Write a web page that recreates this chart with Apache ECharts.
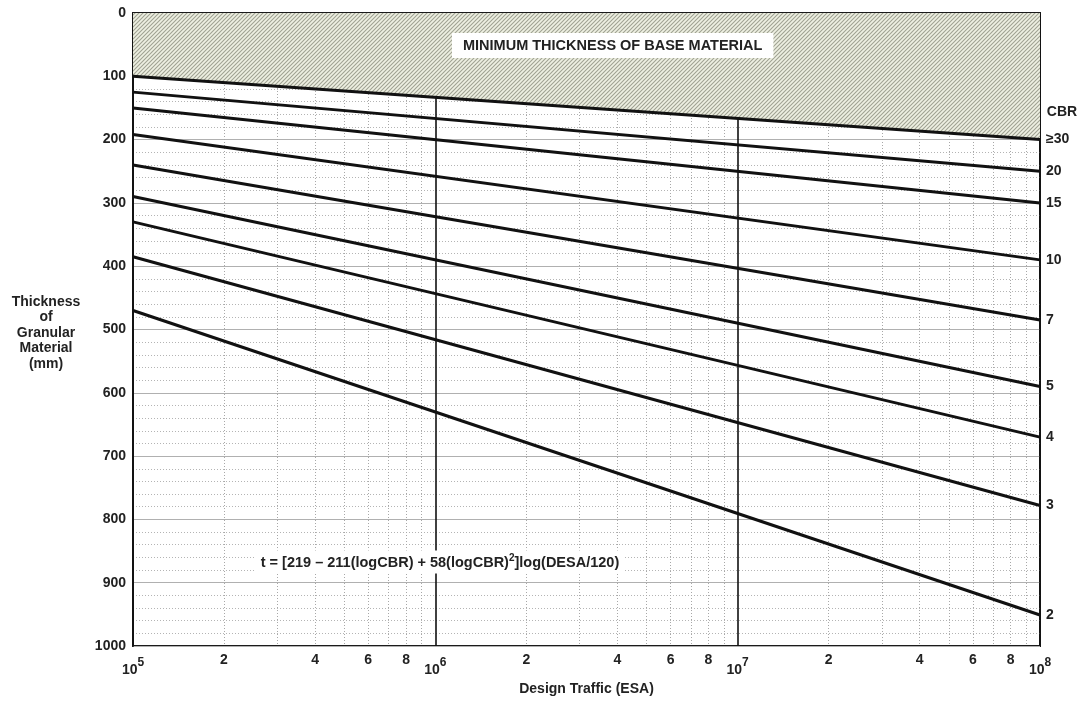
<!DOCTYPE html>
<html>
<head>
<meta charset="utf-8">
<script src="https://cdn.jsdelivr.net/npm/echarts@6/dist/echarts.min.js"></script>
<style>
html,body{margin:0;padding:0;background:#fff;}
#chart{width:1082px;height:717px;}
</style>
</head>
<body>
<div id="chart"></div>
<script>
// ---- data ----
const cbrLabels = ['≥30', '20', '15', '10', '7', '5', '4', '3', '2'];
const trafficEnds = [1e5, 1e8];                      // design traffic (ESA) at both ends
const thicknessAtStart = [100, 125, 150, 192, 240, 290, 330, 385, 470]; // mm at 10^5
const thicknessAtEnd = [200, 250, 300, 390, 485, 590, 670, 778, 951];   // mm at 10^8
const yTicks = [0, 100, 200, 300, 400, 500, 600, 700, 800, 900, 1000];
const minorTrafficTicks = [2e5,3e5,4e5,5e5,6e5,7e5,8e5,9e5,2e6,3e6,4e6,5e6,6e6,7e6,8e6,9e6,2e7,3e7,4e7,5e7,6e7,7e7,8e7,9e7];
const minorTrafficLabels = [2e5,4e5,6e5,8e5,2e6,4e6,6e6,8e6,2e7,4e7,6e7,8e7];
const titleText = 'MINIMUM THICKNESS OF BASE MATERIAL';
const formulaText = 't = [219 – 211(logCBR) + 58(logCBR)';
const formulaTail = ']log(DESA/120)';

const FONT = '"Liberation Sans", Arial, sans-serif';

// hatch pattern
const pc = document.createElement('canvas');
const S = 4;
pc.width = S; pc.height = S;
const pctx = pc.getContext('2d');
pctx.fillStyle = '#eef0e2';
pctx.fillRect(0, 0, S, S);
pctx.strokeStyle = '#9fa292';
pctx.lineWidth = 1.1;
for (const c of [0, S, 2 * S]) {
  pctx.beginPath();
  pctx.moveTo(c + 1, -1);
  pctx.lineTo(c - S - 1, S + 1);
  pctx.stroke();
}

const chart = echarts.init(document.getElementById('chart'), null, {renderer: 'canvas'});

const series = cbrLabels.map((lab, i) => {
  const s = {
    type: 'line',
    name: 'CBR ' + lab,
    xAxisIndex: 0,
    yAxisIndex: 0,
    symbol: 'none',
    silent: true,
    animation: false,
    lineStyle: {color: '#111', width: 3},
    z: 5,
    endLabel: {show: true, distance: 6, formatter: lab,
               fontFamily: FONT, fontWeight: 'bold', fontSize: 14, color: '#222'},
    data: [
      [trafficEnds[0], thicknessAtStart[i]],
      [trafficEnds[1], thicknessAtEnd[i]]
    ]
  };
  if (i === 0) {
    s.areaStyle = {origin: 'start', color: {image: pc, repeat: 'repeat'}, opacity: 1};
    s.z = 4;
  }
  return s;
});

const supRich = {
  b: {fontFamily: FONT, fontWeight: 'bold', fontSize: 14, color: '#222', lineHeight: 20, verticalAlign: 'bottom'},
  s: {fontFamily: FONT, fontWeight: 'bold', fontSize: 12, color: '#222', lineHeight: 20, verticalAlign: 'top'}
};

const option = {
  backgroundColor: '#fff',
  animation: false,
  grid: {left: 133, top: 13, width: 907, height: 633, show: true, borderColor: '#1a1a1a', borderWidth: 2, backgroundColor: 'transparent', containLabel: false},
  xAxis: [
    {
      type: 'log', logBase: 10, min: 1e5, max: 1e8,
      position: 'bottom',
      name: 'Design Traffic (ESA)', nameLocation: 'middle', nameGap: 36,
      nameTextStyle: {fontFamily: FONT, fontWeight: 'bold', fontSize: 14, color: '#222'},
      axisLine: {show: true, lineStyle: {color: '#1a1a1a', width: 2}},
      axisTick: {show: false},
      axisLabel: {
        margin: 11,
        formatter: v => '{b|10}{s|' + Math.round(Math.log10(v)) + '}',
        rich: supRich
      },
      splitLine: {show: true, lineStyle: {color: '#111', width: 1.6}},
      z: 3
    },
    {
      type: 'log', logBase: 10, min: 1e5, max: 1e8,
      position: 'bottom', gridIndex: 0,
      axisLine: {show: false},
      axisTick: {show: false, customValues: minorTrafficTicks},
      axisLabel: {
        show: true, margin: 7,
        customValues: minorTrafficLabels,
        formatter: v => String(Math.round(v / Math.pow(10, Math.floor(Math.log10(v) + 1e-9)))),
        fontFamily: FONT, fontWeight: 'bold', fontSize: 14, color: '#222'
      },
      splitLine: {show: true, lineStyle: {color: '#a8a8a8', width: 1, type: [1, 2]}}
    }
  ],
  yAxis: {
    type: 'value', inverse: true, min: 0, max: 1000, interval: 100,
    axisLine: {show: true, lineStyle: {color: '#1a1a1a', width: 2}},
    axisTick: {show: false},
    axisLabel: {margin: 7, fontFamily: FONT, fontWeight: 'bold', fontSize: 14, color: '#222',
                customValues: yTicks, formatter: v => String(v)},
    splitLine: {show: true, lineStyle: {color: '#b0b0b0', width: 1.2}},
    minorTick: {show: false, splitNumber: 5},
    minorSplitLine: {show: true, lineStyle: {color: '#b4b4b4', width: 1, type: [1, 2]}}
  },
  graphic: [
    {
      type: 'text', left: 452, top: 33, z: 100,
      style: {text: titleText, fontFamily: FONT, fontWeight: 'bold', fontSize: 14.5, fill: '#222',
              backgroundColor: '#fff', padding: [5, 11, 5, 11]}
    },
    {
      type: 'text', x: 1062, y: 112, z: 100,
      style: {text: 'CBR', fontFamily: FONT, fontWeight: 'bold', fontSize: 14, fill: '#222',
              align: 'center', verticalAlign: 'middle'}
    },
    {
      type: 'text', x: 46, y: 333, z: 100,
      style: {text: 'Thickness\nof\nGranular\nMaterial\n(mm)', fontFamily: FONT, fontWeight: 'bold',
              fontSize: 14, lineHeight: 15.5, fill: '#222', align: 'center', verticalAlign: 'middle'}
    },
    {
      type: 'text', x: 440, y: 562, z: 100,
      style: {
        text: '{m|' + formulaText + '}{u|2}{m|' + formulaTail + '}',
        align: 'center', verticalAlign: 'middle',
        backgroundColor: '#fff', padding: [3, 5, 3, 5],
        rich: {
          m: {fontFamily: FONT, fontWeight: 'bold', fontSize: 14.5, fill: '#222', lineHeight: 17, verticalAlign: 'bottom'},
          u: {fontFamily: FONT, fontWeight: 'bold', fontSize: 10, fill: '#222', lineHeight: 17, verticalAlign: 'top'}
        }
      }
    }
  ],
  series: series
};

chart.setOption(option);
</script>
</body>
</html>
